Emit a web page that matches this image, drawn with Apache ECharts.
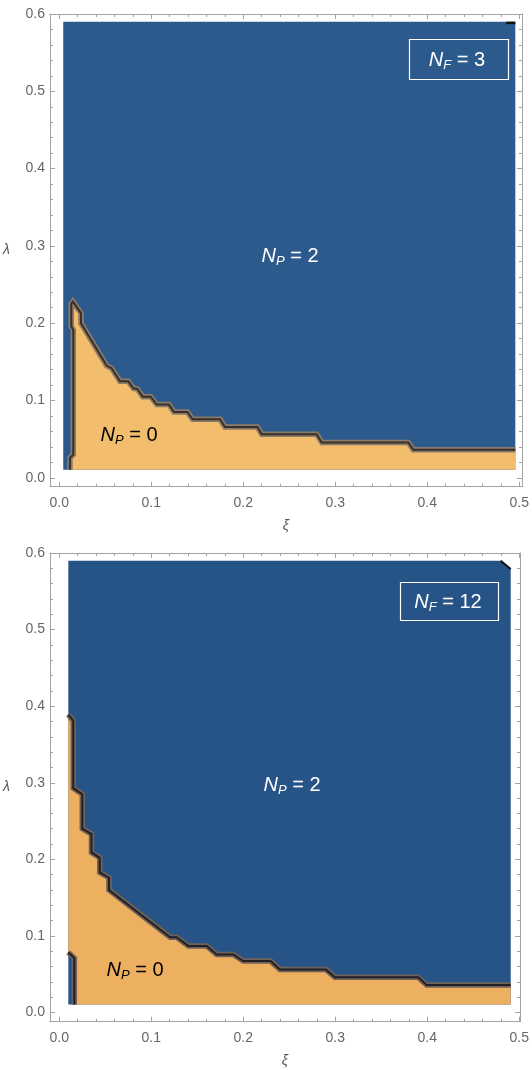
<!DOCTYPE html>
<html><head><meta charset="utf-8">
<script src="https://cdn.jsdelivr.net/npm/echarts@6/dist/echarts.min.js"></script>
<style>html,body{margin:0;padding:0;background:#fff}#c{width:532px;height:1070px}</style>
</head><body><div id="c"></div>
<script>
// ---- tick labels ----
const xMajorTicks = [0, 0.1, 0.2, 0.3, 0.4, 0.5];
const yMajorTicks = [0, 0.1, 0.2, 0.3, 0.4, 0.5, 0.6];
const xMinorTicks = [0,0.02,0.04,0.06,0.08,0.1,0.12,0.14,0.16,0.18,0.2,0.22,0.24,0.26,0.28,0.3,0.32,0.34,0.36,0.38,0.4,0.42,0.44,0.46,0.48,0.5];
const yMinorTicks = [0,0.02,0.04,0.06,0.08,0.1,0.12,0.14,0.16,0.18,0.2,0.22,0.24,0.26,0.28,0.3,0.32,0.34,0.36,0.38,0.4,0.42,0.44,0.46,0.48,0.5,0.52,0.54,0.56,0.58,0.6];

// ---- panel 1 (N_F = 3) ----
const p1DomainXi = [0.0043, 0.4957];
const p1DomainLambda = [0.0104, 0.59];
const p1ContourXi =     [0.0116,0.0116,0.0152,0.0152,0.0130,0.0130,0.0148,0.0165,0.0236,0.0236,0.0515,0.0569,0.0660,0.0751,0.0805,0.0848,0.0907,0.0994,0.1059,0.1192,0.1247,0.1392,0.1450,0.1747,0.1801,0.2153,0.2200,0.2798,0.2853,0.3794,0.3848,0.4957];
const p1ContourLambda = [0.0104,0.0260,0.0300,0.1910,0.1960,0.2250,0.2280,0.2260,0.2130,0.2000,0.1452,0.1417,0.1248,0.1248,0.1158,0.1149,0.1050,0.1050,0.0947,0.0947,0.0851,0.0851,0.0757,0.0757,0.0656,0.0656,0.0565,0.0565,0.0457,0.0457,0.0362,0.0362];
const p1MarkXi = [0.4858, 0.4957];
const p1MarkLambda = [0.5885, 0.5885];

// ---- panel 2 (N_F = 12) ----
const p2DomainXi = [0.0098, 0.4907];
const p2DomainLambda = [0.0105, 0.59];
const p2CornerXi = [0.4797, 0.4907];
const p2CornerLambda = [0.59, 0.579];
const p2ContourXi =     [0.0098,0.0152,0.0152,0.0250,0.0250,0.0350,0.0350,0.0440,0.0440,0.0540,0.0540,0.1205,0.1276,0.1403,0.1602,0.1711,0.1891,0.2000,0.2298,0.2399,0.2899,0.2996,0.3902,0.3993,0.4907];
const p2ContourLambda = [0.3890,0.3810,0.2930,0.2850,0.2400,0.2330,0.2090,0.2020,0.1830,0.1760,0.1600,0.0983,0.0983,0.0870,0.0870,0.0758,0.0758,0.0671,0.0671,0.0560,0.0560,0.0460,0.0460,0.0360,0.0360];
const p2SmallXi =     [0.0098,0.0163,0.0163];
const p2SmallLambda = [0.0785,0.0710,0.0105];

const pairs = (xs, ys) => xs.map((x, i) => [x, ys[i]]);

const AX = '#a3a3a3', LBL = '#666666', FONT = 'Liberation Sans';

function axesFor(g, xr, yr) {
  const xs = [], ys = [];
  const base = {gridIndex: g, type: 'value', splitLine: {show: false}};
  [['bottom', true], ['top', false]].forEach(([pos, lab]) => {
    xs.push(Object.assign({}, base, {min: xr[0], max: xr[1], position: pos,
      axisLine: {show: true, onZero: false, lineStyle: {color: AX, width: 1}},
      axisTick: {show: true, inside: true, length: 5, customValues: xMajorTicks, lineStyle: {color: AX}},
      axisLabel: {show: lab, customValues: xMajorTicks, formatter: v => v.toFixed(1), color: LBL, fontSize: 14, fontFamily: FONT, margin: 9},
      name: lab ? 'ξ' : '', nameLocation: 'middle', nameGap: 32,
      nameTextStyle: {fontStyle: 'italic', fontSize: 14, color: '#555', fontFamily: FONT}}));
    xs.push(Object.assign({}, base, {min: xr[0], max: xr[1], position: pos,
      axisLine: {show: false, onZero: false},
      axisTick: {show: true, inside: true, length: 3, customValues: xMinorTicks, lineStyle: {color: AX}},
      axisLabel: {show: false}}));
  });
  [['left', true], ['right', false]].forEach(([pos, lab]) => {
    ys.push(Object.assign({}, base, {min: yr[0], max: yr[1], position: pos,
      axisLine: {show: true, onZero: false, lineStyle: {color: AX, width: 1}},
      axisTick: {show: true, inside: true, length: 5, customValues: yMajorTicks, lineStyle: {color: AX}},
      axisLabel: {show: lab, customValues: yMajorTicks, formatter: v => v.toFixed(1), color: LBL, fontSize: 14, fontFamily: FONT, margin: 5},
      name: lab ? 'λ' : '', nameLocation: 'middle', nameGap: 40, nameRotate: 0,
      nameTextStyle: {fontStyle: 'italic', fontSize: 14, color: '#555', fontFamily: FONT, padding: [0, 0, 12, 0]}}));
    ys.push(Object.assign({}, base, {min: yr[0], max: yr[1], position: pos,
      axisLine: {show: false, onZero: false},
      axisTick: {show: true, inside: true, length: 3, customValues: yMinorTicks, lineStyle: {color: AX}},
      axisLabel: {show: false}}));
  });
  return {xs, ys};
}

function polygon(xi, yi, pts, color, z) {
  return {type: 'custom', xAxisIndex: xi, yAxisIndex: yi, silent: true, z: z, clip: true,
    data: [pts[0]],
    renderItem: (params, api) => ({type: 'polygon',
      shape: {points: pts.map(p => api.coord(p))}, style: {fill: color}})};
}
function line(xi, yi, pts, color, width, z) {
  return {type: 'line', xAxisIndex: xi, yAxisIndex: yi, data: pts, showSymbol: false, symbol: 'none',
    silent: true, z: z, animation: false, clip: false,
    lineStyle: {color: color, width: width, join: 'miter', cap: 'butt'}};
}

const a1 = axesFor(0, [-0.0101, 0.5029], [-0.0115, 0.6]);
const a2 = axesFor(1, [-0.0101, 0.5008], [-0.012, 0.6]);

// panel 1 shapes
const p1Contour = pairs(p1ContourXi, p1ContourLambda);
const p1Blue = [[p1DomainXi[0], p1DomainLambda[0]], [p1DomainXi[1], p1DomainLambda[0]],
                [p1DomainXi[1], p1DomainLambda[1]], [p1DomainXi[0], p1DomainLambda[1]]];
const p1Orange = p1Contour.concat([[p1DomainXi[1], p1DomainLambda[0]]]);

// panel 2 shapes
const p2Contour = pairs(p2ContourXi, p2ContourLambda);
const p2Small = pairs(p2SmallXi, p2SmallLambda);
const p2Blue = [[p2DomainXi[0], p2DomainLambda[0]], [p2DomainXi[1], p2DomainLambda[0]]]
  .concat(pairs(p2CornerXi, p2CornerLambda).reverse())
  .concat([[p2DomainXi[0], p2DomainLambda[1]]]);
const p2Orange = p2Contour.concat([[p2DomainXi[1], p2DomainLambda[0]]])
  .concat(p2Small.slice().reverse());

const B1 = '#2c5a8c', O1 = '#f2be6e', B2 = '#275487', O2 = '#edaf60';

const series = [
  polygon(0, 0, p1Blue, B1, 1),
  polygon(0, 0, p1Orange, O1, 2),
  line(0, 0, p1Contour, '#8a7a68', 5.5, 3),
  line(0, 0, p1Contour, '#3a302a', 2, 4),
  line(0, 0, pairs(p1MarkXi, p1MarkLambda), '#111', 2.5, 4),

  polygon(4, 4, p2Blue, B2, 1),
  polygon(4, 4, p2Orange, O2, 2),
  line(4, 4, p2Contour, '#6f6158', 5.5, 3),
  line(4, 4, p2Contour, '#222024', 2, 4),
  line(4, 4, p2Small, '#6f6158', 5.5, 3),
  line(4, 4, p2Small, '#222024', 2, 4),
  line(4, 4, pairs(p2CornerXi, p2CornerLambda), '#111', 2, 4)
];

function label(text, x, y, color) {
  return {type: 'text', x: x, y: y, z: 100, silent: true,
    style: {text: text, fill: color, align: 'center', verticalAlign: 'middle', fontFamily: FONT,
      rich: {
        n: {fontStyle: 'italic', fontSize: 20, fill: color, fontFamily: FONT},
        s: {fontStyle: 'italic', fontSize: 13, fill: color, fontFamily: FONT, padding: [11, 0, 0, 0]},
        e: {fontSize: 20, fill: color, fontFamily: FONT}
      }}};
}

const chart = echarts.init(document.getElementById('c'), null, {renderer: 'canvas'});
chart.setOption({
  animation: false,
  backgroundColor: '#fff',
  grid: [
    {left: 50, top: 14, width: 472, height: 472.7},
    {left: 50, top: 553, width: 470, height: 468.7}
  ],
  xAxis: a1.xs.concat(a2.xs),
  yAxis: a1.ys.concat(a2.ys),
  series: series,
  graphic: [
    label('{n|N}{s|P}{e| = 2}', 290, 256, '#ffffff'),
    label('{n|N}{s|P}{e| = 0}', 129, 435, '#000000'),
    label('{n|N}{s|F}{e| = 3}', 457, 60, '#ffffff'),
    {type: 'rect', z: 100, silent: true, shape: {x: 409.5, y: 39.5, width: 99, height: 40},
      style: {fill: 'none', stroke: '#ffffff', lineWidth: 1.2}},
    label('{n|N}{s|P}{e| = 2}', 292, 785, '#ffffff'),
    label('{n|N}{s|P}{e| = 0}', 135, 970, '#000000'),
    label('{n|N}{s|F}{e| = 12}', 448, 602, '#ffffff'),
    {type: 'rect', z: 100, silent: true, shape: {x: 400.5, y: 582.5, width: 98, height: 38},
      style: {fill: 'none', stroke: '#ffffff', lineWidth: 1.2}}
  ]
});
</script></body></html>
